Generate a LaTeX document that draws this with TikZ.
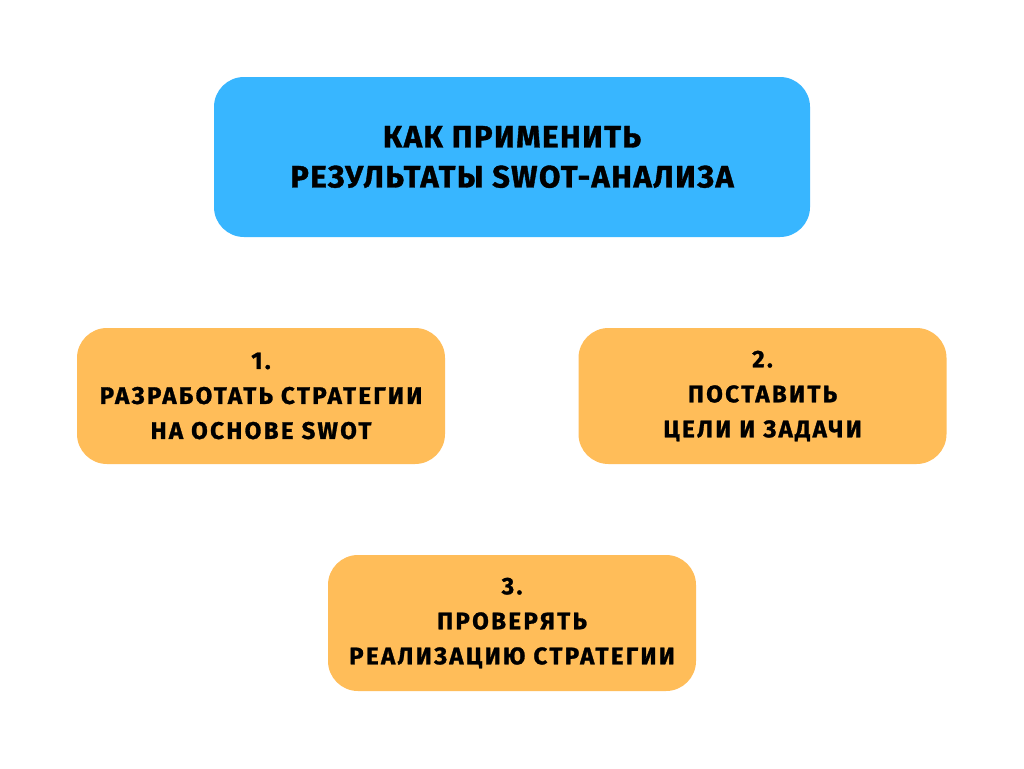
\documentclass[tikz,border=0pt]{standalone}
\usepackage{fontspec}
\setmainfont{Fira Sans}
\definecolor{topblue}{HTML}{38B6FF}
\definecolor{boxorange}{HTML}{FFBD59}
\begin{document}
\begin{tikzpicture}[x=1pt,y=-1pt,
  card/.style={rounded corners=30pt, inner sep=0pt, align=center},
  topcard/.style={card, fill=topblue, minimum width=596pt, minimum height=160pt, font=\fontsize{31}{40}\bfseries\addfontfeatures{LetterSpace=5,FakeBold=1.2}\selectfont},
  stepcard/.style={card, fill=boxorange, minimum width=368pt, minimum height=136pt, font=\fontsize{24}{35}\bfseries\addfontfeatures{LetterSpace=10,FakeBold=1.2}\selectfont}]
\fill[white] (0,0) rectangle (1024,768);
\useasboundingbox (0,0) rectangle (1024,768);
\node[topcard] (top) at (512,157) {КАК ПРИМЕНИТЬ\\РЕЗУЛЬТАТЫ SWOT-АНАЛИЗА};
\node[stepcard] (s1) at (261,396) {1.\\РАЗРАБОТАТЬ СТРАТЕГИИ\\НА ОСНОВЕ SWOT};
\node[stepcard] (s2) at (762.5,396) {2.\\ПОСТАВИТЬ\\ЦЕЛИ И ЗАДАЧИ};
\node[stepcard] (s3) at (512,623) {3.\\ПРОВЕРЯТЬ\\РЕАЛИЗАЦИЮ СТРАТЕГИИ};
\end{tikzpicture}
\end{document}
